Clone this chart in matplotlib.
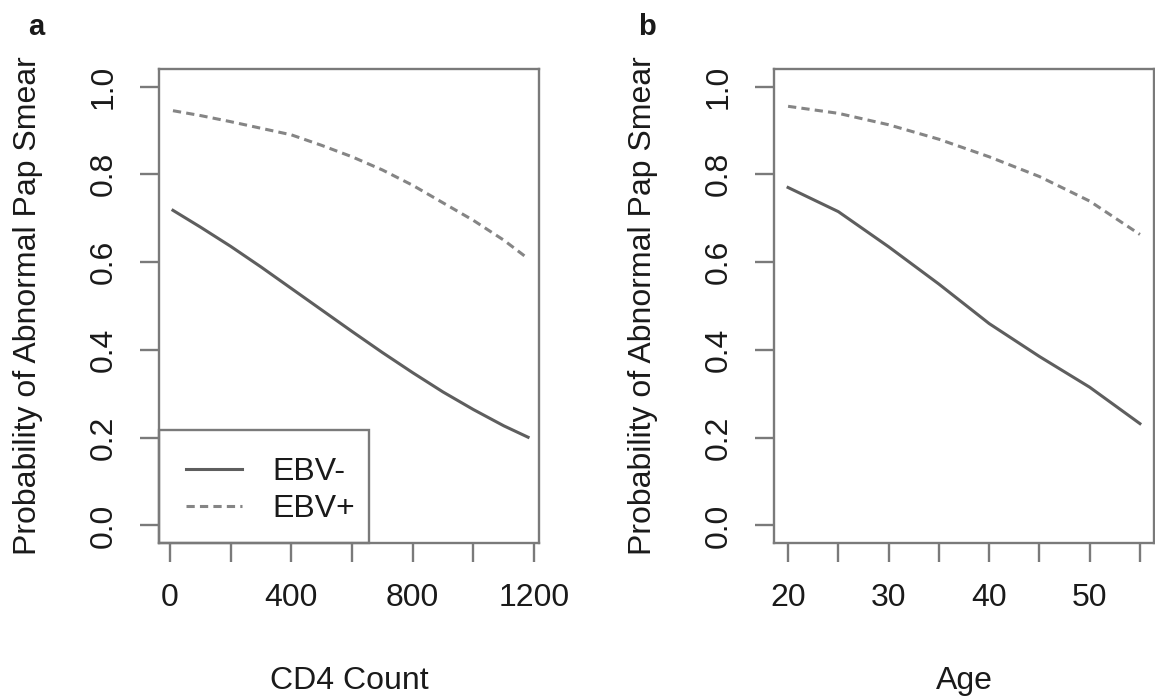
import matplotlib
matplotlib.use("Agg")
import matplotlib.pyplot as plt
from matplotlib.patches import Rectangle

plt.rcParams['font.family'] = ['Liberation Sans', 'DejaVu Sans']

# panel a: CD4 count
cd4 = [10, 100, 200, 300, 400, 500, 600, 700, 800, 900, 1000, 1100, 1180]
cd4_neg = [0.718, 0.680, 0.636, 0.589, 0.540, 0.491, 0.442, 0.394, 0.348, 0.304, 0.264, 0.227, 0.201]
cd4_pos = [0.945, 0.934, 0.920, 0.905, 0.890, 0.866, 0.840, 0.810, 0.775, 0.735, 0.695, 0.650, 0.608]

# panel b: age
age = [20, 25, 30, 35, 40, 45, 50, 55]
age_neg = [0.770, 0.715, 0.635, 0.550, 0.460, 0.385, 0.315, 0.232]
age_pos = [0.955, 0.939, 0.913, 0.880, 0.840, 0.795, 0.739, 0.663]

yticks = [0.0, 0.2, 0.4, 0.6, 0.8, 1.0]
ylab = "Probability of Abnormal Pap Smear"

FS = 23
line_col = "#5e5e5e"
dash_col = "#858585"
box_col = "#7a7a7a"
txt_col = "#1a1a1a"
dash = (0, (2.7, 1.7))

fig = plt.figure(figsize=(11.55, 6.98), dpi=100)
W, H = 1155, 698


def make_ax(left_px):
    ax = fig.add_axes([left_px / W, (H - 543) / H, 380 / W, 474 / H])
    for s in ax.spines.values():
        s.set_color(box_col)
        s.set_linewidth(1.7)
    ax.tick_params(direction="out", length=14, width=1.7, color=box_col,
                   labelsize=FS, labelcolor=txt_col, pad=15)
    ax.set_ylim(-0.04, 1.04)
    ax.set_yticks(yticks)
    ax.set_yticklabels(["%.1f" % v for v in yticks], rotation=90, va="center")
    ax.set_ylabel(ylab, fontsize=FS, color=txt_col, va="center")
    ax.yaxis.set_label_coords(-0.346, 0.5)
    return ax


# a
ax1 = make_ax(159)
ax1.plot(cd4, cd4_neg, color=line_col, lw=2.2, ls="-", label="EBV-")
ax1.plot(cd4, cd4_pos, color=dash_col, lw=2.2, ls=dash, label="EBV+")
ax1.set_xlim(-36, 1216)
ax1.set_xticks(range(0, 1201, 200))
ax1.set_xticklabels(["0", "", "400", "", "800", "", "1200"])
ax1.set_xlabel("CD4 Count", fontsize=FS, color=txt_col, va="center")
ax1.xaxis.set_label_coords(0.5, -0.291)
leg = ax1.legend(loc="lower left", bbox_to_anchor=(8 / 380, 0), borderaxespad=0,
                 frameon=False, fontsize=FS, handlelength=1.75,
                 handletextpad=0.95, labelspacing=0.21, borderpad=0.6)
for t in leg.get_texts():
    t.set_color(txt_col)
# R-style legend box, tighter on the right than the left
ax1.add_patch(Rectangle((0, 0), 210 / 380, 113 / 474, transform=ax1.transAxes,
                        fill=False, edgecolor=box_col, lw=1.7, clip_on=False,
                        zorder=3))
fig.text(36 / W, 1 - 27 / H, "a", fontsize=21, fontweight="bold",
         ha="center", va="center", color=txt_col)

# b
ax2 = make_ax(774)
ax2.plot(age, age_neg, color=line_col, lw=2.2, ls="-")
ax2.plot(age, age_pos, color=dash_col, lw=2.2, ls=dash)
ax2.set_xlim(18.6, 56.4)
ax2.set_xticks(range(20, 56, 5))
ax2.set_xticklabels(["20", "", "30", "", "40", "", "50", ""])
ax2.set_xlabel("Age", fontsize=FS, color=txt_col, va="center")
ax2.xaxis.set_label_coords(0.5, -0.291)
fig.text(647 / W, 1 - 27 / H, "b", fontsize=21, fontweight="bold",
         ha="center", va="center", color=txt_col)

fig.savefig("out.png", dpi=100)
